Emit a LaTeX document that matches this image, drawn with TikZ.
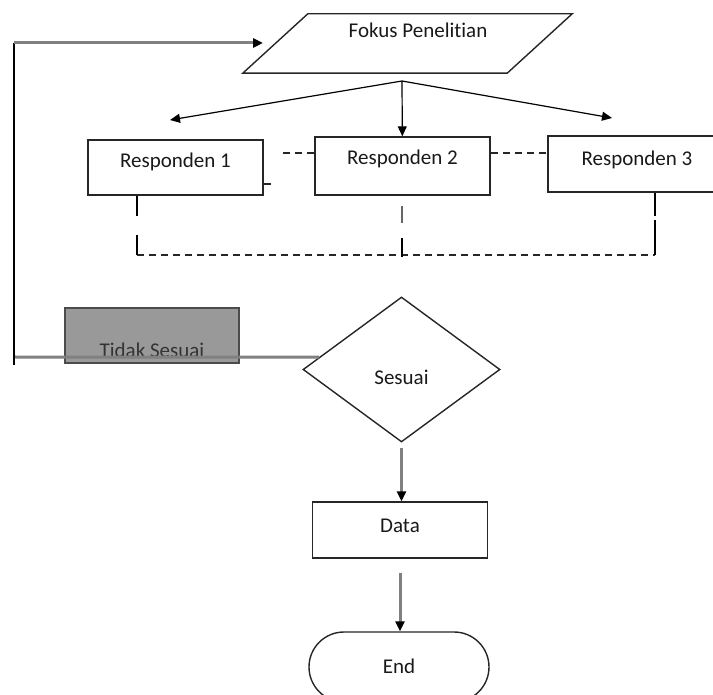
\documentclass[tikz,border=0pt]{standalone}
\usepackage{fontspec}
\setmainfont{Carlito}[Ligatures=NoCommon]
\usetikzlibrary{shapes.geometric,arrows.meta,calc}

\begin{document}
\begin{tikzpicture}[x=1pt,y=-1pt,
        every node/.style={font=\fontsize{21}{25}\selectfont, text=black!90, text height=0pt, text depth=0pt, inner sep=0pt},
        box/.style={draw=black!85, line width=1.4pt, rectangle, minimum width=175pt},
        tip/.style={-{Triangle[length=10pt,width=9pt,color=black]}},
        dashline/.style={draw=black!85, line width=1.4pt, dash pattern=on 7pt off 5pt},
        greyline/.style={draw=black!50, line width=3pt}]
        \useasboundingbox (0,0) rectangle (713,695);
        \node[minimum width=264pt, minimum height=59pt] (fokus) at (407.5,43.5) {\hspace*{21pt}\raisebox{5.5pt}{Fokus Penelitian}};
        \draw[draw=black!85, line width=1.4pt] ([xshift=32.5pt]fokus.north west) -- ([xshift=32.5pt]fokus.north east)
            -- ([xshift=-32.5pt]fokus.south east) -- ([xshift=-32.5pt]fokus.south west) -- cycle;
        \node[box, minimum height=55pt] (resp1) at (175.5,167.5) {Responden 1};
        \node[box, minimum height=58pt] (resp2) at (402.5,166) {\raisebox{1pt}{Responden 2}};
        \node[box, minimum width=178pt, minimum height=56pt] (resp3) at (637,164) {\raisebox{-1.5pt}{Responden 3}};
        \node[box, fill=black!40, draw=black!70, minimum width=174pt, minimum height=55pt, text=black!80] (tidak) at (152,335.5) {\raisebox{-22.5pt}{Tidak Sesuai}};
        \node[box, diamond, minimum width=197pt, minimum height=145pt] (sesuai) at (401.5,369.5) {\raisebox{-15.5pt}{Sesuai}};
        \node[box, minimum height=56pt] (data) at (400,530) {\raisebox{-2pt}{Data}};
        \node[box, rounded corners=35pt, minimum width=180pt, minimum height=70pt] (stop) at (399,667) {\raisebox{-6pt}{End}};
        \coordinate (apex) at (402,81);
        \coordinate (tipL) at (170,120);
        \coordinate (tipR) at (612,118);
        \draw[tip, line width=1.2pt] (apex) -- (tipL);
        \draw[tip, line width=1.2pt] (apex) -- (tipR);
        \draw[tip, line width=1.2pt] (apex) -- (resp2);
        % dashed links between the respondents
        \draw[dashline] ([yshift=-16.5pt]resp1.east) -- ++(10,0);
        \draw[dashline] ([yshift=13pt]resp2.west) -- ++(-33,0);
        \draw[dashline] ([yshift=13pt]resp2.east) -- ([yshift=11pt]resp3.west);
        \coordinate (bus1) at (137,255);
        \coordinate (bus2) at (402,255);
        \coordinate (bus3) at (655,255);
        \draw[dashline] (bus1) -- (bus3);
        \draw[line width=1.4pt] (bus1 |- resp1.south) -- ++(0,20);
        \draw[line width=1.4pt] (bus1) -- ++(0,-20);
        \draw[line width=1.4pt, draw=black!60] ($(bus2 |- resp2.south)+(0,10)$) -- ++(0,17);
        \draw[line width=1.4pt] ($(bus2)+(0,2)$) -- ++(0,-19);
        \draw[line width=1.4pt] (bus3 |- resp3.south) -- ++(0,23);
        \draw[line width=1.4pt] (bus3) -- ++(0,-35);
        % back to the focus
        \coordinate (fbA) at ($(sesuai.west)!0.17!(sesuai.north)$);
        \coordinate (fbB) at (14,357);
        \coordinate (fbC) at (14,365);
        \coordinate (fbD) at (14,43);
        \coordinate (fbE) at (263,43);
        \draw[greyline] (fbA) -- (fbB);
        \draw[line width=2pt] (fbC) -- (fbD);
        \draw[greyline, tip] (fbD) -- (fbE);
        \draw[greyline, tip, shorten <=5pt] (sesuai.south) -- (sesuai.south |- data.north);
        \draw[greyline, tip, shorten <=14pt] (data.south) -- (data.south |- stop.north);
    \end{tikzpicture}
\end{document}
